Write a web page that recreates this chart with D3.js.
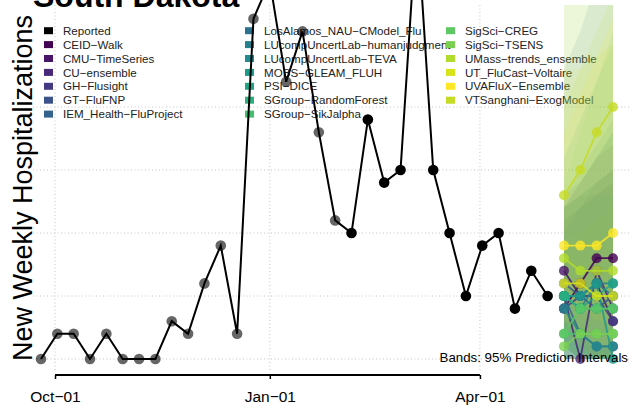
<!DOCTYPE html>
<html><head><meta charset="utf-8">
<script src="https://cdn.jsdelivr.net/npm/d3@7"></script>
<style>
html,body{margin:0;padding:0;background:#fff;}
svg{display:block;font-family:"Liberation Sans",Arial,Helvetica,sans-serif;}
</style></head>
<body>
<svg id="chart" width="630" height="408"></svg>
<script>
// ---------- DATA ----------
const title = "South Dakota";
const yTitle = "New Weekly Hospitalizations";
const bandNote = "Bands: 95% Prediction Intervals";

const reportedDates = ["2022-09-25","2022-10-02","2022-10-09","2022-10-16","2022-10-23","2022-10-30",
  "2022-11-06","2022-11-13","2022-11-20","2022-11-27","2022-12-04","2022-12-11","2022-12-18",
  "2022-12-25","2023-01-01","2023-01-08","2023-01-15","2023-01-22","2023-01-29","2023-02-05",
  "2023-02-12","2023-02-19","2023-02-26","2023-03-05","2023-03-12","2023-03-19","2023-03-26",
  "2023-04-02","2023-04-09","2023-04-16","2023-04-23","2023-04-30"];
const reportedValues = [0,2,2,0,2,0,0,0,3,2,6,9,2,27,30,22,26,18,11,10,19,14,15,35,15,10,5,9,10,4,7,5];
const lastPreliminaryDate = "2023-01-29";

const tickDates = ["2022-10-01","2023-01-01","2023-04-01"];
const tickLabels = ["Oct\u221201","Jan\u221201","Apr\u221201"];
const yGridValues = [0,5,10,15,20];

const horizonDates = ["2023-05-07","2023-05-14","2023-05-21","2023-05-28"];

const models = ["CEID\u2212Walk","CMU\u2212TimeSeries","CU\u2212ensemble","GH\u2212Flusight","GT\u2212FluFNP",
  "IEM_Health\u2212FluProject","LosAlamos_NAU\u2212CModel_Flu","LUcompUncertLab\u2212humanjudgment",
  "LUcompUncertLab\u2212TEVA","MOBS\u2212GLEAM_FLUH","PSI\u2212DICE","SGroup\u2212RandomForest",
  "SGroup\u2212SikJalpha","SigSci\u2212CREG","SigSci\u2212TSENS","UMass\u2212trends_ensemble",
  "UT_FluCast\u2212Voltaire","UVAFluX\u2212Ensemble","VTSanghani\u2212ExogModel"];

const forecastMedian = [
  [4,6,8,8],[7,5,6,3],[5,0,7,4],[4,5,5,3],[6,5,4,5],[5,2,1,1],[5,5,6,5],[5,4,6,6],
  [4,2,1,1],[5,5,6,0],[5,4,5,6],[5,4,4,4],[2,2,2,2],[2,4,4,4],[1,2,2,2],[8,7,7,7],
  [6,6,5,5],[9,9,9,10],[13,15,18,20]];
const forecastLower = [
  [0,0,0,0],[2,1,0,0],[0,0,0,0],[1,0,0,0],[1,0,0,0],[0,0,0,0],[1,0,0,0],[1,0,0,0],
  [0,0,0,0],[0,0,0,0],[1,0,0,0],[1,0,0,0],[0,0,0,0],[0,0,0,0],[0,0,0,0],[2,1,0,0],
  [1,0,0,0],[3,2,1,1],[5,4,3,3]];
const forecastUpper = [
  [12,13,14,15],[13,14,16,17],[11,12,14,15],[10,12,13,14],[12,14,16,18],[12,13,13,14],
  [23,26,30,34],[12,14,16,18],[11,12,13,13],[16,19,22,25],[13,15,17,19],[12,13,14,15],
  [9,10,11,12],[14,18,22,26],[30,30,30,30],[20,23,26,29],[23,23,24,25],[18,21,24,27],[40,45,50,55]];

const palette = ["#440154","#481668","#482878","#443a83","#3b528b","#33638d","#2c728e","#277f8e",
  "#238a8d","#1f9a8a","#20a486","#2ab07f","#44bf70","#5ec962","#7ad151","#b2dc2c","#d8e219",
  "#fde725","#c6db25"];

// ---------- CHART ----------
const svg = d3.select("#chart");
const parse = d3.utcParse("%Y-%m-%d");

const x = d3.scaleUtc()
  .domain([parse("2022-09-25"), parse("2023-05-28")])
  .range([41, 613]);
const y = d3.scaleLinear().domain([0, 20]).range([359, 107]);

const panel = {left: 33, right: 640, top: 5, bottom: 370};

// grid
const grid = svg.append("g").attr("stroke", "#c4c4c4").attr("stroke-width", 1)
  .attr("stroke-dasharray", "1,2.5").attr("fill", "none");
grid.selectAll("line.h").data(yGridValues).join("line").attr("class","h")
  .attr("x1", panel.left).attr("x2", panel.right)
  .attr("y1", d => y(d)).attr("y2", d => y(d));
grid.selectAll("line.v").data(tickDates).join("line").attr("class","v")
  .attr("x1", d => x(parse(d))).attr("x2", d => x(parse(d)))
  .attr("y1", panel.top).attr("y2", panel.bottom);

// x axis
const xAxis = d3.axisBottom(x)
  .tickValues(tickDates.map(parse))
  .tickFormat((d, i) => tickLabels[i])
  .tickSize(4).tickPadding(11.5);
const gx = svg.append("g").attr("transform", "translate(0,375)").call(xAxis);
gx.select(".domain").remove();
gx.selectAll(".tick line").attr("stroke", "#000").attr("stroke-width", 1.5);
gx.selectAll(".tick text").attr("fill", "#000").attr("font-size", 15.5)
  .attr("font-family", "Liberation Sans, Arial, sans-serif");
gx.append("line")
  .attr("x1", x(parse(tickDates[0]))).attr("x2", x(parse(tickDates[tickDates.length-1])))
  .attr("y1", 0).attr("y2", 0).attr("stroke", "#000").attr("stroke-width", 2);

// titles
svg.append("text").attr("x", 33).attr("y", 7).attr("font-size", 32).attr("font-weight", "bold")
  .attr("fill", "#000").text(title);
svg.append("text").attr("transform", "translate(32,188) rotate(-90)").attr("text-anchor", "middle")
  .attr("font-size", 27).attr("fill", "#000").text(yTitle);

// legend
const legendItems = [{name: "Reported", color: "#000"}].concat(models.map((m, i) => ({name: m, color: palette[i]})));
const colX = [44, 245, 446];
const rowsPerCol = 7;
const lg = svg.append("g");
legendItems.forEach((d, i) => {
  const c = Math.floor(i / rowsPerCol), r = i % rowsPerCol;
  const cy = 30.7 + r * 13.9;
  lg.append("rect").attr("x", colX[c]).attr("y", cy - 3.5).attr("width", 9).attr("height", 7).attr("fill", d.color);
  lg.append("text").attr("x", colX[c] + 19).attr("y", cy + 4.1).attr("font-size", 11.6)
    .attr("fill", "#222").text(d.name);
});

// bands
svg.append("defs").append("clipPath").attr("id", "bandclip").append("rect")
  .attr("x", 0).attr("y", panel.top).attr("width", 630).attr("height", 408);
const bandArea = d3.area().x(d => x(d.date)).y0(d => y(d.lo)).y1(d => y(d.hi));
const bandG = svg.append("g").attr("clip-path", "url(#bandclip)");
models.forEach((m, i) => {
  const pts = horizonDates.map((h, k) => ({date: parse(h), lo: forecastLower[i][k], hi: forecastUpper[i][k]}));
  bandG.append("path").datum(pts).attr("d", bandArea).attr("fill", palette[i]).attr("fill-opacity", 0.1);
});

// reported line & points
const rep = reportedDates.map((d, i) => ({date: parse(d), v: reportedValues[i], prelim: parse(d) <= parse(lastPreliminaryDate)}));
const line = d3.line().x(d => x(d.date)).y(d => y(d.v));
svg.append("path").datum(rep).attr("d", line).attr("fill", "none").attr("stroke", "#000").attr("stroke-width", 2);
svg.append("g").selectAll("circle").data(rep).join("circle")
  .attr("cx", d => x(d.date)).attr("cy", d => y(d.v)).attr("r", 5.3)
  .attr("fill", "#000").attr("fill-opacity", d => d.prelim ? 0.6 : 1);

// forecast lines & points
const fLine = d3.line().x(d => x(d.date)).y(d => y(d.v));
models.forEach((m, i) => {
  const pts = horizonDates.map((h, k) => ({date: parse(h), v: forecastMedian[i][k]}));
  const g = svg.append("g");
  g.append("path").datum(pts).attr("d", fLine).attr("fill", "none").attr("stroke", palette[i])
    .attr("stroke-width", 1.8).attr("stroke-opacity", 0.85);
  g.selectAll("circle").data(pts).join("circle").attr("cx", d => x(d.date)).attr("cy", d => y(d.v))
    .attr("r", 5).attr("fill", palette[i]).attr("fill-opacity", 0.8);
});

// note
svg.append("text").attr("x", 628).attr("y", 362).attr("text-anchor", "end").attr("font-size", 13.3)
  .attr("fill", "#000").text(bandNote);
</script>
</body></html>
